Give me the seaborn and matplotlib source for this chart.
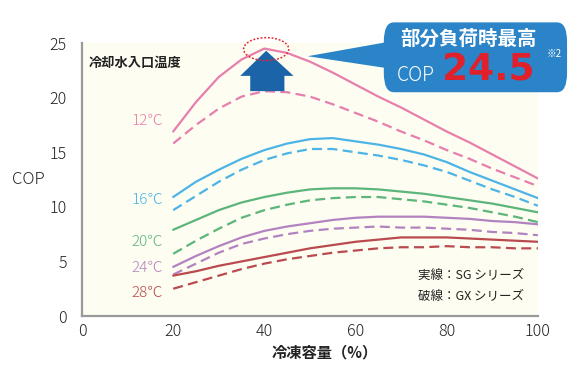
import numpy as np
import pandas as pd
import seaborn as sns
import matplotlib.pyplot as plt
from matplotlib.patches import Ellipse, FancyBboxPatch, Polygon

# cooling capacity (%)
capacity = [20, 25, 30, 35, 40, 45, 50, 55, 60, 65, 70, 75, 80, 85, 90, 95, 100]

# COP, solid = SG series, dashed = GX series
sg_12 = [16.9, 19.6, 21.9, 23.5, 24.5, 24.1, 23.3, 22.3, 21.2, 20.1, 19.1, 18.0, 16.9, 15.9, 14.8, 13.7, 12.6]
gx_12 = [15.8, 17.5, 19.0, 20.1, 20.6, 20.5, 20.1, 19.4, 18.6, 17.8, 16.9, 16.1, 15.2, 14.4, 13.5, 12.7, 11.9]
sg_16 = [10.9, 12.3, 13.4, 14.4, 15.2, 15.8, 16.2, 16.3, 16.0, 15.7, 15.3, 14.8, 14.1, 13.2, 12.4, 11.6, 10.8]
gx_16 = [9.7, 11.0, 12.3, 13.4, 14.3, 14.9, 15.3, 15.3, 15.0, 14.7, 14.3, 13.8, 13.2, 12.4, 11.6, 10.9, 10.1]
sg_20 = [7.9, 8.8, 9.7, 10.4, 10.9, 11.3, 11.6, 11.7, 11.7, 11.6, 11.4, 11.2, 10.9, 10.6, 10.3, 9.9, 9.5]
gx_20 = [5.7, 6.9, 8.0, 9.0, 9.7, 10.2, 10.6, 10.8, 10.9, 10.9, 10.7, 10.5, 10.2, 9.9, 9.5, 9.1, 8.6]
sg_24 = [4.5, 5.5, 6.4, 7.2, 7.8, 8.2, 8.5, 8.8, 9.0, 9.1, 9.1, 9.1, 9.0, 8.9, 8.7, 8.6, 8.4]
gx_24 = [3.8, 4.8, 5.8, 6.6, 7.1, 7.5, 7.8, 8.0, 8.1, 8.2, 8.1, 8.1, 8.0, 7.9, 7.7, 7.6, 7.4]
sg_28 = [3.7, 4.1, 4.6, 5.0, 5.4, 5.8, 6.2, 6.5, 6.8, 7.0, 7.2, 7.2, 7.2, 7.1, 7.0, 6.9, 6.8]
gx_28 = [2.5, 3.1, 3.7, 4.3, 4.8, 5.2, 5.5, 5.8, 6.0, 6.2, 6.3, 6.3, 6.4, 6.3, 6.3, 6.2, 6.2]

temps = ["12℃", "16℃", "20℃", "24℃", "28℃"]
temp_colors = ["#e67fae", "#4cb4e6", "#5cb57b", "#b283c0", "#b94a4f"]
label_y = [17.9, 10.6, 6.8, 4.4, 2.1]

sg_series = [sg_12, sg_16, sg_20, sg_24, sg_28]
gx_series = [gx_12, gx_16, gx_20, gx_24, gx_28]

rows = []
for t, sg, gx in zip(temps, sg_series, gx_series):
    for x, a, b in zip(capacity, sg, gx):
        rows.append({"capacity": x, "cop": a, "temp": t, "series": "SG"})
        rows.append({"capacity": x, "cop": b, "temp": t, "series": "GX"})
df = pd.DataFrame(rows)

sns.set_theme(style="white")
plt.rcParams['font.family'] = ['Noto Sans CJK JP', 'DejaVu Sans']

fig = plt.figure(figsize=(5.8, 3.86), dpi=100)
ax = fig.add_axes([0.1414, 0.1813, 0.786, 0.707])
ax.set_facecolor("#fefdf1")

sns.lineplot(data=df, x="capacity", y="cop", hue="temp", style="series",
             palette=dict(zip(temps, temp_colors)),
             dashes={"SG": "", "GX": (4.5, 2.4)},
             linewidth=1.6, legend=False, ax=ax)

ax.set_xlim(0, 100)
ax.set_ylim(0, 25)
ax.set_xticks([0, 20, 40, 60, 80, 100])
ax.set_yticks([0, 5, 10, 15, 20, 25])
for s in ["top", "right"]:
    ax.spines[s].set_visible(False)
for s in ["left", "bottom"]:
    ax.spines[s].set_color("#9a9a9a")
    ax.spines[s].set_linewidth(1.6)
ax.tick_params(axis="y", direction="in", length=6, width=1.4, color="#9a9a9a",
               pad=11, labelsize=11.5, labelcolor="#222222")
ax.tick_params(axis="x", length=0, pad=5, labelsize=11.5, labelcolor="#222222")
for lab in ax.get_xticklabels() + ax.get_yticklabels():
    lab.set_fontweight("light")

ax.set_ylabel("COP", rotation=0, fontsize=12, color="#222222", fontweight="light")
ax.yaxis.set_label_coords(-0.118, 0.5)
ax.yaxis.label.set_va("center")
ax.set_xlabel("冷凍容量（%）", fontsize=11, fontweight="bold", color="#222222")
ax.xaxis.set_label_coords(0.533, -0.135)
ax.xaxis.label.set_va("center")

# temperature labels
for t, c, yy in zip(temps, temp_colors, label_y):
    ax.text(14.3, yy, t, color=c, fontsize=11, fontweight="light", ha="center", va="center")

ax.text(1.5, 23.2, "冷却水入口温度", fontsize=9.5, fontweight="bold", color="#222222",
        ha="left", va="center")
ax.text(97, 3.75, "実線：SG シリーズ", fontsize=9, color="#222222", ha="right", va="center")
ax.text(97, 1.75, "破線：GX シリーズ", fontsize=9, color="#222222", ha="right", va="center")

# up arrow and dotted ellipse at the peak
arrow = Polygon([(40.4, 24.3), (46.4, 22.0), (44.4, 22.0), (44.4, 20.6),
                 (36.9, 20.6), (36.9, 22.0), (34.7, 22.0)],
                closed=True, facecolor="#1b64a8", edgecolor="none", zorder=5)
ax.add_patch(arrow)
ax.add_patch(Ellipse((40.4, 24.45), 9.9, 2.1, fill=False, edgecolor="#e3262b",
                     linestyle=(0, (1.2, 1.2)), linewidth=1.1, zorder=6, clip_on=False))

# callout box
box_color = "#2a84c7"
ax.add_patch(Polygon([(49.5, 23.8), (67.0, 25.1), (67.0, 22.7)], closed=True,
                     facecolor=box_color, edgecolor="none", clip_on=False, zorder=6))
ax.add_patch(FancyBboxPatch((66.2, 20.5), 40.2, 6.4,
                            boxstyle="round,pad=0,rounding_size=2.2",
                            mutation_aspect=0.8,
                            facecolor=box_color, edgecolor="none",
                            clip_on=False, zorder=6))
ax.text(84.8, 25.35, "部分負荷時最高", fontsize=14, fontweight="bold", color="white",
        ha="center", va="center", zorder=7)
ax.text(69.0, 22.0, "COP", fontsize=14, fontweight="light", color="white",
        ha="left", va="center", zorder=7)
ax.text(79.0, 22.45, "24.5", fontsize=27, fontweight="bold", color="#e0202a",
        family=["DejaVu Sans"], ha="left", va="center", zorder=7)
ax.text(102.0, 24.0, "※2", fontsize=7, color="white", ha="left", va="center", zorder=7)

fig.savefig("out.png", dpi=100, facecolor="white")
